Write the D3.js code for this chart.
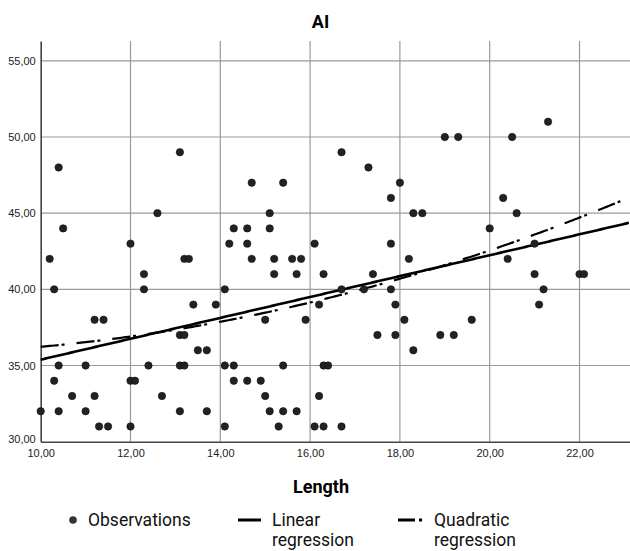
<!DOCTYPE html>
<html>
<head>
<meta charset="utf-8">
<script src="https://cdn.jsdelivr.net/npm/d3@7"></script>
<style>
  body { margin: 0; background: #fff; }
  svg { display: block; }
</style>
</head>
<body>
<div id="chart"></div>
<script>
const w = 630;
const h = 551;

// observations
const lengthVals = [10.4, 10.5, 13.1, 12.6, 12.0, 16.7, 17.3, 18.0, 17.8, 18.3, 18.5, 14.7, 15.4, 15.1, 14.3, 14.6,
  15.1, 14.2, 14.6, 16.1, 17.8, 19.0, 19.3, 20.5, 21.3, 20.3, 20.6, 20.0, 21.0, 10.2, 10.3, 11.2, 11.4, 10.4,
  11.0, 10.3, 10.7, 11.2, 10.0, 10.4, 11.0, 11.3, 11.5, 12.0, 12.3, 12.3, 13.2, 13.3, 13.4, 13.9, 13.1, 13.2,
  13.5, 13.7, 12.4, 13.1, 13.2, 12.0, 12.1, 12.7, 13.1, 13.7, 14.7, 15.2, 15.6, 15.8, 18.2, 15.2, 15.7, 16.3,
  17.4, 14.1, 16.7, 17.2, 17.8, 16.2, 17.9, 15.0, 15.9, 18.1, 17.5, 17.9, 18.3, 14.1, 14.3, 15.4, 16.3, 16.4,
  14.3, 14.6, 14.9, 15.0, 16.2, 15.1, 15.4, 15.7, 14.1, 15.3, 16.1, 16.3, 16.7, 20.4, 21.0, 22.0, 22.1, 21.2,
  21.1, 19.6, 18.9, 19.2];
const aiVals = [48, 44, 49, 45, 43, 49, 48, 47, 46, 45, 45, 47, 47, 45, 44, 44,
  44, 43, 43, 43, 43, 50, 50, 50, 51, 46, 45, 44, 43, 42, 40, 38, 38, 35,
  35, 34, 33, 33, 32, 32, 32, 31, 31, 31, 41, 40, 42, 42, 39, 39, 37, 37,
  36, 36, 35, 35, 35, 34, 34, 33, 32, 32, 42, 42, 42, 42, 42, 41, 41, 41,
  41, 40, 40, 40, 40, 39, 39, 38, 38, 38, 37, 37, 36, 35, 35, 35, 35, 35,
  34, 34, 34, 33, 33, 32, 32, 32, 31, 31, 31, 31, 31, 42, 41, 41, 41, 40,
  39, 38, 37, 37];

const xTicks = [10, 12, 14, 16, 18, 20, 22];
const yTicks = [30, 35, 40, 45, 50, 55];
const legendItems = ["Observations", "Linear|regression", "Quadratic|regression"];

const data = lengthVals.map((x, i) => ({ x: x, y: aiVals[i] }));

// least squares fits, polynomial of given degree in t = x - 10
const polyFit = (pts, deg) => {
  const n = deg + 1;
  const A = d3.range(n).map(() => d3.range(n + 1).map(() => 0));
  pts.forEach((p) => {
    const t = p.x - 10;
    for (let r = 0; r < n; r++) {
      for (let c = 0; c < n; c++) A[r][c] += Math.pow(t, r + c);
      A[r][n] += p.y * Math.pow(t, r);
    }
  });
  for (let i = 0; i < n; i++) {
    for (let k = i + 1; k < n; k++) {
      const f = A[k][i] / A[i][i];
      for (let c = i; c <= n; c++) A[k][c] -= f * A[i][c];
    }
  }
  const b = new Array(n).fill(0);
  for (let i = n - 1; i >= 0; i--) {
    let s = A[i][n];
    for (let c = i + 1; c < n; c++) s -= A[i][c] * b[c];
    b[i] = s / A[i][i];
  }
  return (x) => b.reduce((acc, v, i) => acc + v * Math.pow(x - 10, i), 0);
};
const linFit = polyFit(data, 1);
const quadFit = polyFit(data, 2);

const svg = d3.select("#chart").append("svg").attr("width", w).attr("height", h);

const plotL = 40.7, plotR = 630, plotT = 41, plotB = 441.7;
const xScale = d3.scaleLinear().domain([10, 23.125]).range([plotL, plotR]);
const yScale = d3.scaleLinear().domain([30, 56.3]).range([plotB, plotT]);

// grid
svg.append("g")
  .selectAll("line")
  .data(xTicks.slice(1))
  .enter()
  .append("line")
  .attr("x1", (d) => xScale(d))
  .attr("x2", (d) => xScale(d))
  .attr("y1", plotT)
  .attr("y2", plotB)
  .attr("stroke", "#9a9a9a")
  .attr("stroke-width", 1.2);
svg.append("g")
  .selectAll("line")
  .data(yTicks.slice(1))
  .enter()
  .append("line")
  .attr("x1", plotL)
  .attr("x2", plotR)
  .attr("y1", (d) => yScale(d))
  .attr("y2", (d) => yScale(d))
  .attr("stroke", "#9a9a9a")
  .attr("stroke-width", 1.2);

// axes
const xAxis = d3.axisBottom(xScale).tickValues(xTicks).tickSize(0).tickPadding(8)
  .tickFormat((d) => d3.format(".2f")(d).replace(".", ","));
const gx = svg.append("g").attr("transform", "translate(0," + plotB + ")").call(xAxis);
gx.select(".domain").attr("stroke", "#444").attr("stroke-width", 1.6);

const yAxis = d3.axisLeft(yScale).tickValues(yTicks).tickSize(0).tickPadding(5)
  .tickFormat((d) => d3.format(".2f")(d).replace(".", ","));
const gy = svg.append("g").attr("transform", "translate(" + plotL + ",0)").call(yAxis);
gy.select(".domain").attr("stroke", "#444").attr("stroke-width", 1.6);

svg.selectAll(".tick text")
  .attr("font-family", "Liberation Sans, Arial, sans-serif")
  .attr("font-size", 11)
  .attr("fill", "#222");
gy.selectAll(".tick").filter((d) => d === 30).select("text").attr("dy", "0.1em");

// fit lines
const fitXs = d3.range(10, 23.126, 0.05);
const line = d3.line().x((d) => xScale(d[0])).y((d) => yScale(d[1]));
svg.append("path")
  .attr("d", line(fitXs.map((x) => [x, linFit(x)])))
  .attr("fill", "none")
  .attr("stroke", "#000")
  .attr("stroke-width", 2.6);
svg.append("path")
  .attr("d", line(fitXs.map((x) => [x, quadFit(x)])))
  .attr("fill", "none")
  .attr("stroke", "#000")
  .attr("stroke-width", 2.2)
  .attr("stroke-dasharray", "18,3,3,12");

// observations
svg.append("g")
  .selectAll("circle")
  .data(data)
  .enter()
  .append("circle")
  .attr("cx", (d) => xScale(d.x))
  .attr("cy", (d) => yScale(d.y))
  .attr("r", 3.7)
  .attr("fill", "#222")
  .attr("stroke", "#111")
  .attr("stroke-width", 0.6);

// titles
svg.append("text")
  .attr("x", 320.5)
  .attr("y", 27.5)
  .attr("text-anchor", "middle")
  .attr("font-family", "Roboto, sans-serif")
  .attr("font-weight", "bold")
  .attr("font-size", 18)
  .text("AI");
svg.append("text")
  .attr("x", 321)
  .attr("y", 492.5)
  .attr("text-anchor", "middle")
  .attr("font-family", "Roboto, sans-serif")
  .attr("font-weight", "bold")
  .attr("font-size", 18)
  .text("Length");

// legend
const legendX = [73, 238, 398];
const lg = svg.append("g")
  .selectAll("g")
  .data(legendItems)
  .enter()
  .append("g")
  .attr("transform", (d, i) => "translate(" + legendX[i] + ",520)");
lg.filter((d, i) => i === 0)
  .append("circle")
  .attr("r", 3.8)
  .attr("fill", "#333");
lg.filter((d, i) => i === 1)
  .append("line")
  .attr("x1", 0).attr("x2", 23)
  .attr("stroke", "#000").attr("stroke-width", 3);
lg.filter((d, i) => i === 2)
  .append("line")
  .attr("x1", 0).attr("x2", 25)
  .attr("stroke", "#000").attr("stroke-width", 3)
  .attr("stroke-dasharray", "17,4,3,10");
const lt = lg.append("text")
  .attr("x", (d, i) => [15, 34, 36][i])
  .attr("y", 5.5)
  .attr("font-family", "Roboto, sans-serif")
  .attr("font-size", 17.5)
  .attr("fill", "#111");
lt.selectAll("tspan")
  .data((d) => d.split("|"))
  .enter()
  .append("tspan")
  .attr("x", function () { return d3.select(this.parentNode).attr("x"); })
  .attr("dy", (d, i) => (i === 0 ? 0 : 20.5))
  .text((d) => d);
</script>
</body>
</html>
